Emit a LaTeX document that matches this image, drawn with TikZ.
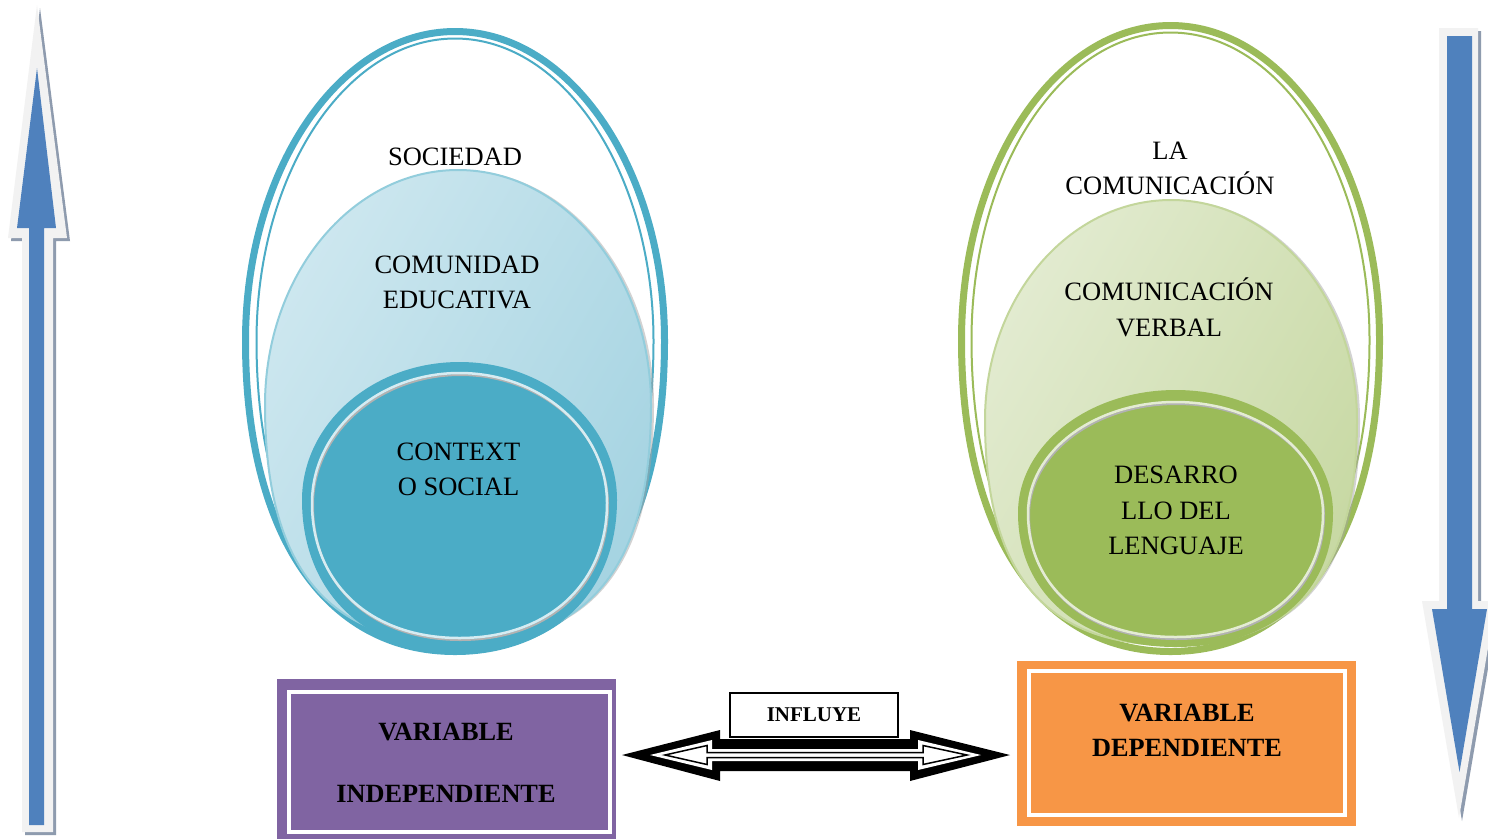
\documentclass[tikz,border=0pt]{standalone}
\usepackage{fontspec}
\setmainfont{Liberation Serif}
\definecolor{blueC}{HTML}{4BACC6}
\definecolor{blueBd}{HTML}{92CDDC}
\definecolor{blueL}{HTML}{E4F2F7}
\definecolor{blueD}{HTML}{A6D4E2}
\definecolor{blueM}{HTML}{CDE7EF}
\definecolor{blueLine}{HTML}{D6ECF2}
\definecolor{greenC}{HTML}{9BBB59}
\definecolor{greenBd}{HTML}{C3D69B}
\definecolor{greenL}{HTML}{F0F5E8}
\definecolor{greenD}{HTML}{C8D9A4}
\definecolor{greenM}{HTML}{E2EBD0}
\definecolor{greenLine}{HTML}{E4ECD3}
\definecolor{purpleC}{HTML}{8064A2}
\definecolor{orangeC}{HTML}{F79646}
\definecolor{arrowBlue}{HTML}{4F81BD}
\definecolor{arrowLight}{HTML}{F2F2F2}
\definecolor{arrowShadow}{HTML}{8E9BAE}
\newcommand{\eggpath}[6]{%
 ({#1+#3},#2) .. controls ({#1+#3},{#2+#6*#5}) and ({#1+#6*#3},{#2+#5}) .. (#1,{#2+#5})
 .. controls ({#1-#6*#3},{#2+#5}) and ({#1-#3},{#2+#6*#5}) .. ({#1-#3},#2)
 .. controls ({#1-#3},{#2-0.5523*#4}) and ({#1-0.5523*#3},{#2-#4}) .. (#1,{#2-#4})
 .. controls ({#1+0.5523*#3},{#2-#4}) and ({#1+#3},{#2-0.5523*#4}) .. ({#1+#3},#2) -- cycle}
\tikzset{
  lbl/.style={align=center, inner sep=0pt, text=black, font=\fontsize{26.5}{35.5}\selectfont},
  blbl/.style={align=center, inner sep=0pt, text=black, font=\bfseries\fontsize{26.3}{35.5}\selectfont},
}
\begin{document}
\begin{tikzpicture}[x=1pt,y=-1pt]
\useasboundingbox (0,0) rectangle (1488,839);
\fill[white] (0,0) rectangle (1488,839);

% ---- left vertical arrow (up)
\fill[arrowShadow] (40,8) -- (70,241) -- (56,241) -- (56,835) -- (25,835) -- (25,241) -- (11,241) -- cycle;
\fill[arrowLight] (37,5) -- (67,238) -- (53,238) -- (53,832) -- (22,832) -- (22,238) -- (8,238) -- cycle;
\fill[arrowBlue] (37,68) -- (56,228) -- (44,228) -- (44,825) -- (29,825) -- (29,228) -- (17,228) -- cycle;

% ---- right vertical arrow (down)
\fill[arrowShadow] (1442,31) -- (1481,31) -- (1481,604) -- (1499,604) -- (1462,821) -- (1425,604) -- (1442,604) -- cycle;
\fill[arrowLight] (1439,28) -- (1478,28) -- (1478,601) -- (1496,601) -- (1459,818) -- (1422,601) -- (1439,601) -- cycle;
\fill[arrowBlue] (1447,36) -- (1472,36) -- (1472,609) -- (1487,609) -- (1459.5,772) -- (1432,609) -- (1447,609) -- cycle;

% ---- left (blue) group
\draw[blueC, line width=7pt] \eggpath{455}{341}{209.5}{309.5}{310.5}{0.62};
\draw[blueC, line width=2pt] \eggpath{455}{341}{198.5}{302.5}{303.5}{0.62};
\fill[gray!70, opacity=0.5] \eggpath{461}{405}{193}{235}{238}{0.68};
\shade[left color=blueM, middle color=blueL, right color=blueD, shading angle=60] \eggpath{458}{405}{193}{235}{238}{0.68};
\draw[blueBd, line width=2pt] \eggpath{458}{405}{193}{235}{238}{0.68};
\fill[blueC] \eggpath{459.5}{500}{157.5}{138}{153}{0.6};
\draw[gray!60, line width=2pt] \eggpath{460.5}{505}{147.5}{130}{135}{0.6};
\draw[blueLine, line width=2.5pt] \eggpath{459.5}{503}{147.5}{130}{135}{0.6};

\node[lbl] (soc) at (455,157) {SOCIEDAD};
\node[lbl] (com) at (457,282.5) {COMUNIDAD\\EDUCATIVA};
\node[lbl] (ctx) at (458.5,469.5) {CONTEXT\\O SOCIAL};

% ---- right (green) group
\draw[greenC, line width=7pt] \eggpath{1170.5}{340}{209}{314.5}{311.5}{0.62};
\draw[greenC, line width=2pt] \eggpath{1170.5}{340}{199}{307.5}{304.5}{0.62};
\fill[gray!70, opacity=0.5] \eggpath{1174}{420}{186}{220}{225}{0.68};
\shade[left color=greenM, middle color=greenL, right color=greenD, shading angle=60] \eggpath{1171}{420}{186}{220}{225}{0.68};
\draw[greenBd, line width=2pt] \eggpath{1171}{420}{186}{220}{225}{0.68};
\fill[greenC] \eggpath{1175.5}{513}{157.5}{123}{134}{0.6};
\draw[gray!60, line width=2pt] \eggpath{1176.5}{515}{147.5}{111}{124}{0.6};
\draw[greenLine, line width=2.5pt] \eggpath{1175.5}{513}{147.5}{111}{124}{0.6};

\node[lbl] (lacom) at (1170,168.5) {LA\\COMUNICACIÓN};
\node[lbl] (verb) at (1169,307.5) {COMUNICACIÓN\\VERBAL};
\node[lbl] (des) at (1176,510.5) {DESARRO\\LLO DEL\\LENGUAJE};

% ---- boxes
\fill[purpleC] (277,679) rectangle (616,839);
\draw[white, line width=4pt] (289,692) rectangle (609.5,832);
\node[blbl, font=\bfseries\fontsize{26.3}{62}\selectfont] (vi) at (446,763) {VARIABLE\\INDEPENDIENTE};

\fill[orangeC] (1017,661) rectangle (1356,826);
\draw[white, line width=4pt] (1028.5,671) rectangle (1345,815);
\node[blbl] (vd) at (1187,730.5) {VARIABLE\\DEPENDIENTE};

% ---- double arrow
\fill[black] (622,755) -- (720,730) -- (720,739) -- (910,739) -- (910,730) -- (1010,755) -- (910,781) -- (910,771) -- (720,771) -- (720,781) -- cycle;
\fill[white] (650,755) -- (712,740) -- (712,749) -- (918,749) -- (918,740) -- (981,755) -- (918,770) -- (918,761) -- (712,761) -- (712,770) -- cycle;
\draw[black, line width=1.5pt, line join=miter] (665,755) -- (707,745.5) -- (707,752.5) -- (923,752.5) -- (923,745.5) -- (967,755) -- (923,764.5) -- (923,757.5) -- (707,757.5) -- (707,764.5) -- cycle;

\node[draw=black, fill=white, line width=1.5pt, minimum width=168pt, minimum height=44pt, inner sep=0pt,
      font=\bfseries\fontsize{21}{24}\selectfont] (inf) at (814,715) {INFLUYE};
\end{tikzpicture}
\end{document}
